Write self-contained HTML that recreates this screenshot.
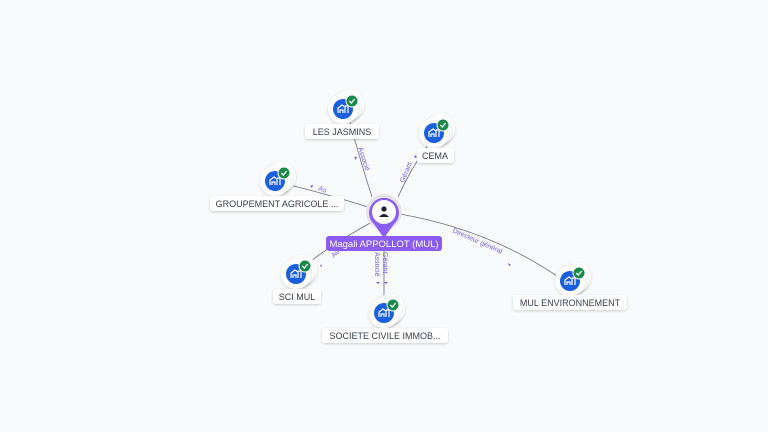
<html><body style="margin:0;background:#f9fafc">
<svg width="768" height="432" viewBox="0 0 768 432" xmlns="http://www.w3.org/2000/svg" style="display:block;font-family:'Liberation Sans',sans-serif">
<defs>
<filter id="sh" x="-50%" y="-50%" width="200%" height="200%"><feDropShadow dx="0" dy="1" stdDeviation="1.2" flood-color="#000" flood-opacity="0.18"/></filter>
<g id="ic">
<circle cx="6" cy="-4" r="15" fill="#fff" filter="url(#sh)"/>
<circle cx="3" cy="-2" r="15" fill="#fff" filter="url(#sh)"/>
<circle cx="0" cy="0" r="15" fill="#fff" filter="url(#sh)"/>
<circle cx="0" cy="0" r="10" fill="#1a5fe0"/>
<path d="M-5 4 V-1 L-1 -4 L2 -2 V4 M2 -3 H5 V4 M-3 4 V1 H0 V4" stroke="#fff" stroke-width="1.2" fill="none"/>
<circle cx="9" cy="-8" r="6" fill="#1a8a4a" stroke="#fff" stroke-width="1"/>
<path d="M6.3 -8 L8.3 -6 L11.7 -10" stroke="#fff" stroke-width="1.3" fill="none"/>
</g>
</defs>
<g stroke="#6b6f80" stroke-width="0.8" fill="none">
<path d="M372 197 Q360 160 350 122"/>
<path d="M398 197 Q410 170 428 145"/>
<path d="M368 207 Q330 195 290 185"/>
<path d="M372 222 Q330 245 302 268"/>
<path d="M384 250 L384 298"/>
<path d="M400 214 Q490 230 560 278"/>
</g>
<g fill="#7c5ce0" font-size="7">
<text transform="translate(358,148) rotate(72)">Associé</text>
<text transform="translate(404,183) rotate(-68)">Gérant</text>
<text transform="translate(318,190) rotate(20)">As</text>
<text transform="translate(334,258) rotate(-45)">As</text>
<text transform="translate(375,252) rotate(90)">Associé</text>
<text transform="translate(383,252) rotate(90)">Gérant</text>
<text transform="translate(452,232) rotate(24)">Directeur général</text>
<path d="M356 160 l-2 -3 l3 0z M414 158 l1 -3 l2 2z M312 188 l-2 -2 l3 -1z M322 266 l-2 1 l1 -3z M378 284 l-2 -2 h4z M386 284 l-2 -2 h4z M509 266 l-1 -3 l3 2z"/>
</g>
<circle cx="384" cy="212" r="18" fill="#e4e5ea"/>
<path d="M384 238 L374 224 A15 15 0 1 1 394 224 Z" fill="#8b5cf6"/>
<circle cx="384" cy="212" r="12" fill="#fff"/>
<circle cx="384" cy="209" r="2.6" fill="#1c1c2e"/><path d="M379 217 Q384 211 389 217Z" fill="#1c1c2e"/>
<rect x="326" y="236" width="116" height="15" rx="3" fill="#8b5cf6"/>
<text x="384" y="247" text-anchor="middle" font-size="9.5" fill="#fff">Magali APPOLLOT (MUL)</text>
<use href="#ic" x="343" y="109"/>
<use href="#ic" x="434" y="133"/>
<use href="#ic" x="275" y="181"/>
<use href="#ic" x="296" y="274"/>
<use href="#ic" x="384" y="313"/>
<use href="#ic" x="570" y="281"/>
<g font-size="9" fill="#3a3d4d" text-anchor="middle">
<rect x="305" y="124" width="74" height="15" rx="3" fill="#fff" filter="url(#sh)"/><text x="342" y="135">LES JASMINS</text>
<rect x="417" y="148" width="37" height="15" rx="3" fill="#fff" filter="url(#sh)"/><text x="435" y="159">CEMA</text>
<rect x="210" y="196" width="134" height="15" rx="3" fill="#fff" filter="url(#sh)"/><text x="277" y="207">GROUPEMENT AGRICOLE ...</text>
<rect x="273" y="289" width="48" height="15" rx="3" fill="#fff" filter="url(#sh)"/><text x="297" y="300">SCI MUL</text>
<rect x="322" y="328" width="126" height="15" rx="3" fill="#fff" filter="url(#sh)"/><text x="385" y="339">SOCIETE CIVILE IMMOB...</text>
<rect x="513" y="295" width="114" height="15" rx="3" fill="#fff" filter="url(#sh)"/><text x="570" y="306">MUL ENVIRONNEMENT</text>
</g>
</svg>
</body></html>
